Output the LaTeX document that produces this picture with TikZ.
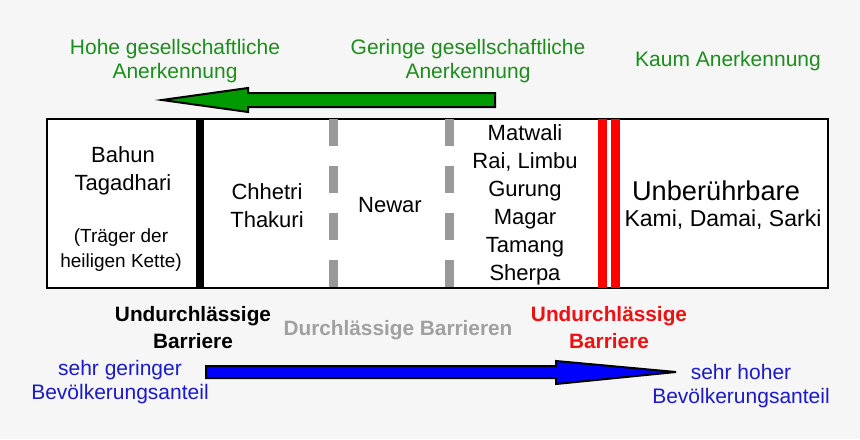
\documentclass[tikz,border=0pt]{standalone}
\usepackage{fontspec}
\setmainfont{Liberation Sans}
\usetikzlibrary{positioning}
\definecolor{nepbg}{HTML}{F6F6F6}
\definecolor{nepgreen}{HTML}{1E8C1E}
\definecolor{nepgreenfill}{HTML}{009900}
\definecolor{nepblue}{HTML}{1A1ACC}
\definecolor{nepbluefill}{HTML}{0000FF}
\definecolor{nepred}{HTML}{EE1111}
\definecolor{nepgrey}{HTML}{999999}
\definecolor{nepgreytext}{HTML}{A0A0A0}

\begin{document}
\begin{tikzpicture}[x=0.5pt,y=-0.5pt,
  lbl/.style={inner sep=0pt,align=center,font=\fontsize{11}{14}\selectfont},
  rank/.style={inner sep=0pt,align=center,text=nepgreen,
              font=\fontsize{10.5}{12}\selectfont},
  share/.style={inner sep=0pt,align=center,text=nepblue,
              font=\fontsize{10.5}{12}\selectfont},
  barrier/.style={inner sep=0pt,align=center,
              font=\bfseries\fontsize{10.4}{13.5}\selectfont},
  wall/.style={line width=4pt,black,shorten <=0.5pt,shorten >=0.5pt},
  gate/.style={line width=4.5pt,nepgrey,dash pattern=on 13.5pt off 10pt,
              shorten <=0.5pt,shorten >=0.5pt},
  redwall/.style={line width=4.5pt,red,shorten <=0.5pt,shorten >=0.5pt},
  blockarr/.style={draw=black,line width=1pt,line join=miter}]
  \useasboundingbox[fill=nepbg] (0,0) rectangle (860,439);
  % band of castes
  \node[draw,fill=white,line width=1pt,minimum width=390.5pt,
        minimum height=84.5pt,inner sep=0pt] (band) at (437.5,203.5) {};
  \coordinate (bahunwall) at (200,0);
  \coordinate (gateA) at (333,0);
  \coordinate (gateB) at (449,0);
  \coordinate (redA) at (602.5,0);
  \coordinate (redB) at (615.5,0);
  \draw[wall] (bahunwall |- band.north) -- (bahunwall |- band.south);
  \draw[gate] (gateA |- band.north) -- (gateA |- band.south);
  \draw[gate] (gateB |- band.north) -- (gateB |- band.south);
  \draw[redwall] (redA |- band.north) -- (redA |- band.south);
  \draw[redwall] (redB |- band.north) -- (redB |- band.south);
  \node[lbl] (bahun) at (123,171) {Bahun\\Tagadhari};
  \node[lbl,font=\fontsize{9.5}{12.5}\selectfont] (thread) at (121,250)
       {(Träger der\\heiligen Kette)};
  \node[lbl] (chhetri) at (267,206) {Chhetri\\Thakuri};
  \node[lbl] (newar) at (390,205) {Newar};
  \node[lbl] (matwali) at (525,205)
       {Matwali\\Rai, Limbu\\Gurung\\Magar\\Tamang\\Sherpa};
  \node[lbl,font=\fontsize{13.6}{16}\selectfont] (untouch) at (716,191)
       {Unberührbare};
  \node[lbl,font=\fontsize{11.5}{14}\selectfont] (kami) at (723,220)
       {Kami, Damai, Sarki};
  % recognition
  \node[rank] (high) at (175,61) {Hohe gesellschaftliche\\Anerkennung};
  \node[rank] (low) at (468,61) {Geringe gesellschaftliche\\Anerkennung};
  \node[rank] (none) at (728,61) {Kaum Anerkennung};
  \draw[blockarr,fill=nepgreenfill] (495,93) -- (248,93) -- (248,88)
       -- (162,100) -- (248,112) -- (248,107) -- (495,107) -- cycle;
  % barriers
  \node[barrier] (shut) at (193,328) {Undurchlässige\\Barriere};
  \node[barrier,text=nepgreytext] (open) at (398,330) {Durchlässige Barrieren};
  \node[barrier,text=nepred] (shutred) at (609,328) {Undurchlässige\\Barriere};
  % population share
  \node[share] (few) at (120,382) {sehr geringer\\Bevölkerungsanteil};
  \node[share] (many) at (741,386) {sehr hoher\\Bevölkerungsanteil};
  \draw[blockarr,fill=nepbluefill] (206,366) -- (556,366) -- (556,361)
       -- (676,372) -- (556,384) -- (556,378) -- (206,378) -- cycle;
\end{tikzpicture}
\end{document}
